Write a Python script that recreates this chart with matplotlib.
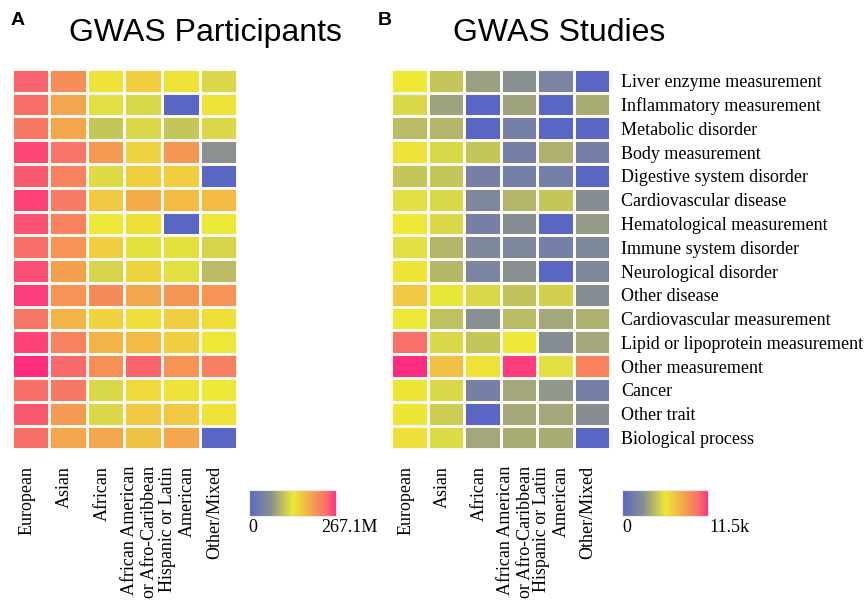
import numpy as np
import matplotlib.pyplot as plt
from matplotlib.colors import LinearSegmentedColormap, FuncNorm

# ancestry groups (columns)
ancestries = ["European", "Asian", "African", "African American\nor Afro-Caribbean",
              "Hispanic or Latin\nAmerican", "Other/Mixed"]

# trait categories (rows, top to bottom)
categories = [
    "Liver enzyme measurement", "Inflammatory measurement", "Metabolic disorder",
    "Body measurement", "Digestive system disorder", "Cardiovascular disease",
    "Hematological measurement", "Immune system disorder", "Neurological disorder",
    "Other disease", "Cardiovascular measurement", "Lipid or lipoprotein measurement",
    "Other measurement", "Cancer", "Other trait", "Biological process",
]

# number of GWAS participants per category / ancestry (estimated)
participants = [
    [38e6, 3.7e6, 24e3, 77e3, 24e3, 6.2e3],
    [26e6, 790e3, 9.1e3, 6.2e3, 0, 24e3],
    [14.5e6, 790e3, 2.3e3, 6.2e3, 2.3e3, 6.2e3],
    [101e6, 17.7e6, 1.7e6, 63e3, 2.1e6, 128],
    [56e6, 8.1e6, 7.5e3, 77e3, 77e3, 0],
    [123e6, 12e6, 114e3, 540e3, 247e3, 247e3],
    [69e6, 8.1e6, 16e3, 29e3, 0, 16e3],
    [26e6, 2.5e6, 77e3, 11e3, 11e3, 5.1e3],
    [83e6, 1.17e6, 5.1e3, 52e3, 9.1e3, 1.3e3],
    [149e6, 2.5e6, 4.5e6, 790e3, 2.1e6, 2.5e6],
    [17.7e6, 365e3, 63e3, 29e3, 77e3, 29e3],
    [123e6, 8.1e6, 365e3, 247e3, 77e3, 16e3],
    [267.1e6, 31.6e6, 3.1e6, 38e6, 2.5e6, 9.9e6],
    [26e6, 14.5e6, 6.2e3, 43e3, 24e3, 16e3],
    [56e6, 1.7e6, 6.2e3, 114e3, 114e3, 24e3],
    [26e6, 790e3, 790e3, 167e3, 790e3, 0],
]

# number of GWAS studies per category / ancestry (estimated)
studies = [
    [107, 42, 14, 9, 4, 0],
    [67, 16, 0, 16, 0, 21],
    [31, 26, 0, 3, 0, 0],
    [130, 67, 41, 3, 23, 3],
    [41, 41, 3, 3, 3, 0],
    [80, 67, 5, 26, 41, 8],
    [107, 67, 3, 8, 0, 12],
    [80, 26, 5, 5, 3, 5],
    [117, 28, 4, 9, 0, 5],
    [275, 96, 67, 38, 55, 8],
    [107, 35, 9, 31, 18, 23],
    [3700, 67, 41, 107, 8, 18],
    [11500, 330, 130, 8700, 80, 2100],
    [117, 67, 3, 18, 11, 3],
    [117, 50, 0, 18, 18, 8],
    [140, 73, 18, 21, 21, 0],
]

cmap = LinearSegmentedColormap.from_list("gwas", [
    (0.0, "#5a66c4"), (0.25, "#8a9190"), (0.5, "#ede936"),
    (0.72, "#f5a04e"), (0.88, "#f8706a"), (1.0, "#ff2d80")])

serif = "Liberation Serif"
sans = "Liberation Sans"

fig = plt.figure(figsize=(8.64, 6.09), dpi=100)


def log1p_norm(vmax):
    return FuncNorm((lambda x: np.log10(np.asarray(x) + 1),
                     lambda y: 10 ** np.asarray(y) - 1), vmin=0, vmax=vmax)


def heatmap(rect, data, show_rows):
    ax = fig.add_axes(rect)
    arr = np.array(data, dtype=float)
    ax.pcolormesh(arr, cmap=cmap, norm=log1p_norm(arr.max()),
                  edgecolor="#fbf8f0", linewidth=2)
    ax.set_xlim(0, arr.shape[1])
    ax.set_ylim(arr.shape[0], 0)
    for s in ax.spines.values():
        s.set_visible(False)
    ax.set_xticks(np.arange(arr.shape[1]) + 0.4)
    ax.set_xticklabels(ancestries, rotation=90, fontsize=13, family=serif,
                       va="top", ha="center", multialignment="right")
    ax.tick_params(axis="x", length=0, pad=12)
    if show_rows:
        ax.yaxis.tick_right()
        ax.set_yticks(np.arange(arr.shape[0]) + 0.5)
        ax.set_yticklabels(categories, fontsize=13, family=serif)
        ax.tick_params(axis="y", length=0, pad=8)
    else:
        ax.set_yticks([])
    return ax


def colorbar(rect, label_max):
    cax = fig.add_axes(rect)
    grad = np.linspace(0, 1, 256).reshape(1, -1)
    cax.imshow(grad, aspect="auto", cmap=cmap, extent=(0, 1, 0, 1))
    cax.set_xticks([])
    cax.set_yticks([])
    for s in cax.spines.values():
        s.set_edgecolor("#f0e8f0")
        s.set_linewidth(0.8)
    cax.text(0, -0.08, "0", transform=cax.transAxes, ha="left", va="top",
             fontsize=13, family=serif)
    cax.text(1.48, -0.08, label_max, transform=cax.transAxes, ha="right", va="top",
             fontsize=13, family=serif)


heatmap([0.0135, 0.262, 0.261, 0.625], participants, False)
heatmap([0.453, 0.262, 0.253, 0.625], studies, True)

colorbar([0.288, 0.152, 0.101, 0.043], "267.1M")
colorbar([0.72, 0.152, 0.1, 0.043], "11.5k")

fig.text(0.238, 0.946, "GWAS Participants", ha="center", va="center",
         fontsize=23, family=sans)
fig.text(0.647, 0.946, "GWAS Studies", ha="center", va="center",
         fontsize=23, family=sans)
fig.text(0.012, 0.967, "A", ha="left", va="center", fontsize=14,
         fontweight="bold", family=sans)
fig.text(0.437, 0.967, "B", ha="left", va="center", fontsize=14,
         fontweight="bold", family=sans)

plt.savefig("out.png", dpi=100)
